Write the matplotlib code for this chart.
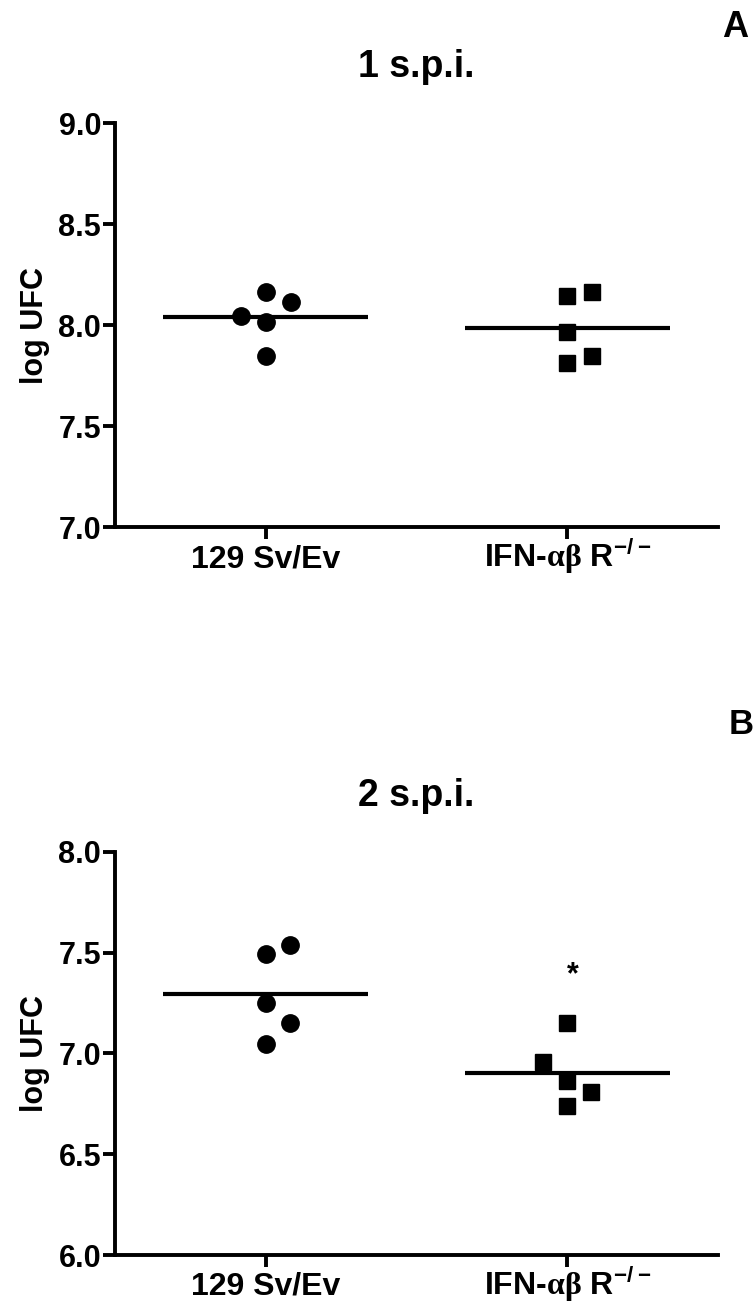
import numpy as np
import matplotlib
matplotlib.use("Agg")
import matplotlib.pyplot as plt

plt.rcParams['font.family'] = ['Liberation Sans', 'DejaVu Sans']
plt.rcParams['font.weight'] = 'bold'
plt.rcParams['mathtext.fontset'] = 'custom'
plt.rcParams['mathtext.rm'] = 'Liberation Serif'
plt.rcParams['mathtext.bf'] = 'Liberation Sans:bold'

groups = ['129 Sv/Ev', r'IFN-$\mathrm{\alpha\beta}$ $\mathbf{R}^{\mathbf{-/-}}$']

# log UFC per mouse, 1 s.p.i.
wt_1spi = [8.165, 8.115, 8.046, 8.016, 7.85]
ko_1spi = [8.144, 8.165, 7.967, 7.847, 7.813]

# log UFC per mouse, 2 s.p.i.
wt_2spi = [7.54, 7.494, 7.25, 7.15, 7.045]
ko_2spi = [7.153, 6.96, 6.865, 6.81, 6.74]

titles = ['1 s.p.i.', '2 s.p.i.']
panel_letters = ['A', 'B']
y_ranges = [(7.0, 9.0), (6.0, 8.0)]

# horizontal scatter of overlapping points
jitter = {
    'wt_1spi': [0, 0.083, -0.083, 0, 0],
    'ko_1spi': [0, 0.083, 0, 0.083, 0],
    'wt_2spi': [0.08, 0, 0, 0.08, 0],
    'ko_2spi': [0, -0.08, 0, 0.08, 0],
}

fig = plt.figure(figsize=(7.55, 13.06), dpi=100)
axA = fig.add_axes([0.1523, 0.5961, 0.7987, 0.3097])
axB = fig.add_axes([0.1523, 0.03905, 0.7987, 0.3086])

panels = [
    (axA, wt_1spi, ko_1spi, jitter['wt_1spi'], jitter['ko_1spi']),
    (axB, wt_2spi, ko_2spi, jitter['wt_2spi'], jitter['ko_2spi']),
]

for i, (ax, wt, ko, jw, jk) in enumerate(panels):
    ax.plot(0 + np.array(jw), wt, 'o', color='black', markersize=12.5, zorder=3)
    ax.plot(1 + np.array(jk), ko, 's', color='black', markersize=11.5, zorder=3)
    ax.hlines(np.mean(wt), -0.34, 0.34, color='black', linewidth=3)
    ax.hlines(np.mean(ko), 1 - 0.34, 1 + 0.34, color='black', linewidth=3)

    lo, hi = y_ranges[i]
    ax.set_ylim(lo, hi)
    ax.set_yticks(np.arange(lo, hi + 0.01, 0.5))
    ax.set_yticklabels([f'{v:.1f}' for v in np.arange(lo, hi + 0.01, 0.5)])
    ax.set_xlim(-0.5, 1.5)
    ax.set_xticks([0, 1])
    ax.set_xticklabels(groups)

    for s in ['top', 'right']:
        ax.spines[s].set_visible(False)
    for s in ['left', 'bottom']:
        ax.spines[s].set_linewidth(2.8)
    ax.tick_params(axis='both', width=2.8, length=8.5, color='black')
    ax.tick_params(axis='y', labelsize=22, pad=1.5)
    ax.tick_params(axis='x', labelsize=23, pad=20)
    # align both group names on a common baseline
    for lbl in ax.get_xticklabels():
        lbl.set_verticalalignment('baseline')

    ax.set_ylabel('log UFC', fontsize=22, fontweight='bold')
    ax.yaxis.set_label_coords(-0.108, 0.5)
    ax.set_title(titles[i], fontsize=27, fontweight='bold', pad=33)

# significance mark over the knockout group at 2 s.p.i.
axB.text(1.017, 7.35, '*', fontsize=22, fontweight='bold', ha='center', va='baseline')

fig.text(735 / 755, 1 - 37 / 1306, panel_letters[0], fontsize=26, fontweight='bold',
         ha='center', va='baseline')
fig.text(754 / 755, 1 - 734 / 1306, panel_letters[1], fontsize=25, fontweight='bold',
         ha='right', va='baseline')

fig.savefig('out.png', dpi=100)
